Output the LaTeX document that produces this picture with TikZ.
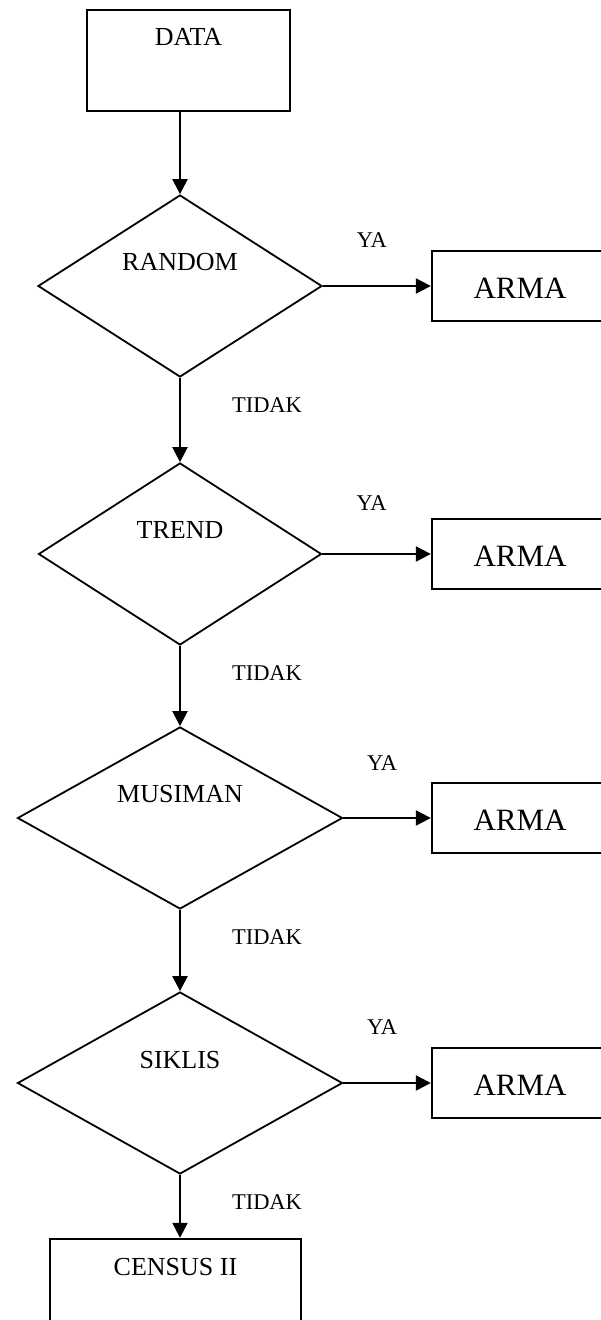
\documentclass[tikz,border=0pt]{standalone}
\usepackage{fontspec}
\setmainfont{Liberation Serif}
\usetikzlibrary{shapes.geometric,positioning,arrows.meta}

\newcommand{\lblfont}{\fontsize{11.25pt}{13pt}\selectfont}
\newcommand{\txtfont}{\fontsize{13pt}{15pt}\selectfont}
\newcommand{\armafont}{\fontsize{15.5pt}{18pt}\selectfont}

\begin{document}
\begin{tikzpicture}[on grid, >={Triangle[length=7.5pt,width=7.5pt]},
	decision/.style={diamond, draw, line width=0.9pt, inner sep=0pt, minimum height=91pt},
	procbox/.style={rectangle, draw, line width=1.2pt, inner sep=0pt},
	armabox/.style={procbox, minimum width=100pt, minimum height=35pt},
	txt/.style={font=\txtfont, inner sep=0pt},
	ya/.style={font=\lblfont, inner sep=0pt, midway, xshift=-2.5pt},
	tidak/.style={font=\lblfont, inner sep=0pt, at start, xshift=43.5pt, yshift=-13.5pt},
	flow/.style={->, line width=1.2pt}]
	\useasboundingbox (-90pt,143pt) rectangle (210pt,-517pt);

	\node[decision, minimum width=142pt, label={[txt, yshift=12pt]center:RANDOM}] (random) at (0,0) {};
	\node[procbox, minimum width=101.5pt, minimum height=50.5pt, label={[txt, yshift=11.75pt]center:DATA}] (data) [above right=112.75pt and 4.25pt of random] {};
	\node[decision, minimum width=141.5pt, label={[txt, yshift=12pt]center:TREND}] (trend) [below=134pt of random] {};
	\node[decision, minimum width=162.5pt, label={[txt, yshift=12pt]center:MUSIMAN}] (musiman) [below=132pt of trend] {};
	\node[decision, minimum width=162.5pt, label={[txt, yshift=11.5pt]center:SIKLIS}] (siklis) [below=132.5pt of musiman] {};
	\node[procbox, minimum width=125.5pt, minimum height=50pt, label={[txt, yshift=11pt]center:CENSUS II}] (census) [below left=103pt and 2.25pt of siklis] {};

	\foreach \src/\n in {random/1, trend/2, musiman/3, siklis/4}
		\node[armabox, label={[font=\armafont, inner sep=0pt, xshift=-6pt, yshift=-1pt]center:ARMA}] (arma\n) [right=176pt of \src] {};

	\draw[flow] (data.south -| random.north) -- (random.north);
	\draw[flow] (random.east) -- node[ya, yshift=23pt] {YA} (arma1);
	\draw[flow] (random.south) -- node[tidak] {TIDAK} (trend.north);
	\draw[flow] (trend.east) -- node[ya, yshift=25.5pt] {YA} (arma2);
	\draw[flow] (trend.south) -- node[tidak] {TIDAK} (musiman.north);
	\draw[flow] (musiman.east) -- node[ya, yshift=27.5pt] {YA} (arma3);
	\draw[flow] (musiman.south) -- node[tidak] {TIDAK} (siklis.north);
	\draw[flow] (siklis.east) -- node[ya, yshift=28pt] {YA} (arma4);
	\draw[flow] (siklis.south) -- node[tidak] {TIDAK} (census.north -| siklis.south);
\end{tikzpicture}
\end{document}
